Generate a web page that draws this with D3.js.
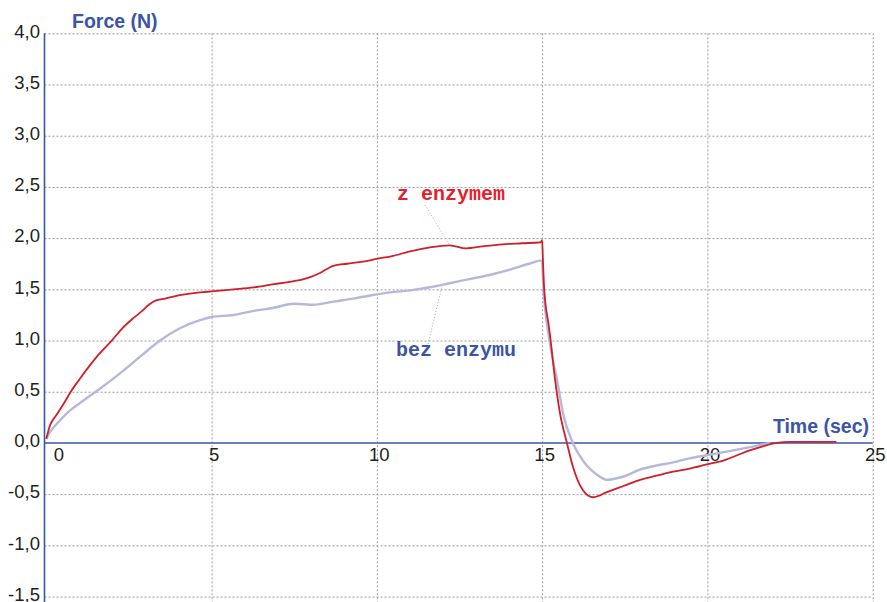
<!DOCTYPE html>
<html>
<head>
<meta charset="utf-8">
<script src="https://cdn.jsdelivr.net/npm/d3@7"></script>
<style>
  html, body { margin: 0; padding: 0; background: #fff; }
  svg { display: block; }
</style>
</head>
<body>
<svg id="chart" width="887" height="602"></svg>
<script>
// ---- data ----
const xTicks = [0, 5, 10, 15, 20, 25];
const yTicks = [-1.5, -1.0, -0.5, 0.0, 0.5, 1.0, 1.5, 2.0, 2.5, 3.0, 3.5, 4.0];
const xTitle = "Time (sec)";
const yTitle = "Force (N)";
const seriesNames = ["z enzymem", "bez enzymu"];

const redTime = [0, 0.1, 0.3, 0.5, 0.74, 1.0, 1.3, 1.6, 1.98, 2.3, 2.6, 2.9, 3.1, 3.3, 3.6, 4.0, 4.65,
  5.0, 5.67, 6.28, 6.88, 7.49, 7.9, 8.28, 8.68, 9.1, 9.58, 10.03, 10.4, 11.0, 11.6, 12.2, 12.7, 13.2,
  13.8, 14.4, 14.96, 15.0, 15.02, 15.05, 15.1, 15.19, 15.25, 15.39, 15.54, 15.75, 15.93, 16.23, 16.53,
  16.96, 17.46, 17.96, 18.46, 18.96, 19.46, 19.98, 20.5, 20.9, 21.3, 21.7, 22.1, 22.5, 23.2, 23.9];
const redForce = [0.04, 0.16, 0.27, 0.37, 0.5, 0.62, 0.75, 0.87, 1.0, 1.12, 1.21, 1.29, 1.35, 1.39, 1.41, 1.44, 1.47,
  1.48, 1.50, 1.52, 1.55, 1.58, 1.61, 1.66, 1.73, 1.75, 1.77, 1.80, 1.82, 1.87, 1.91, 1.93, 1.90, 1.92,
  1.94, 1.95, 1.96, 1.98, 1.82, 1.57, 1.36, 1.17, 1.02, 0.62, 0.29, 0.0, -0.23, -0.46, -0.53,
  -0.48, -0.42, -0.36, -0.32, -0.28, -0.25, -0.21, -0.17, -0.12, -0.07, -0.03, 0.0, 0.01, 0.01, 0.01];

const blueTime = [0, 0.1, 0.3, 0.62, 1.02, 1.62, 2.23, 2.83, 3.44, 4.04, 4.65,
  5.0, 5.67, 6.28, 6.88, 7.49, 8.1, 8.68, 9.28, 9.8, 10.4, 11.0, 11.6, 12.2, 12.8, 13.4, 14.0, 14.6,
  14.95, 15.0, 15.03, 15.1, 15.2, 15.3, 15.45, 15.63, 15.93, 16.23, 16.66, 16.96, 17.44, 17.96,
  18.46, 18.96, 19.46, 19.98, 20.5, 20.98, 21.3, 21.6, 21.9];
const blueForce = [0.04, 0.1, 0.18, 0.29, 0.39, 0.53, 0.68, 0.84, 1.0, 1.12, 1.20,
  1.23, 1.25, 1.29, 1.32, 1.36, 1.35, 1.38, 1.41, 1.44, 1.47, 1.49, 1.52, 1.56, 1.60, 1.64, 1.69, 1.75,
  1.78, 1.78, 1.56, 1.28, 1.05, 0.85, 0.62, 0.29, 0.0, -0.17, -0.31, -0.36, -0.33, -0.26,
  -0.22, -0.19, -0.15, -0.12, -0.09, -0.06, -0.04, -0.02, 0.0];

// ---- layout ----
const svg = d3.select("#chart");
const W = 887, H = 602;
const padL = 46.3, padR = 872.7, padT = 33.3, padB = 596.6;

const x = d3.scaleLinear().domain([0, 25]).range([padL, padR]);
const y = d3.scaleLinear().domain([-1.5, 4.0]).range([padB, padT]);

const axisBlue = "#3b55a6";
const gridCol = "#9a9a9a";
const labelCol = "#231f20";

// horizontal grid
const yGrid = d3.axisLeft(y).tickValues(yTicks.filter(d => d !== 0)).tickSize(-(padR - 44.5)).tickFormat("");
svg.append("g").attr("transform", "translate(44.5,0)").call(yGrid)
  .call(g => g.select(".domain").remove())
  .call(g => g.selectAll("line").attr("stroke", gridCol).attr("stroke-width", 1).attr("stroke-dasharray", "2,2"));

// vertical grid
const xGrid = d3.axisTop(x).tickValues(xTicks.filter(d => d !== 0)).tickSize(-(H - padT)).tickFormat("");
svg.append("g").attr("transform", `translate(0,${padT})`).call(xGrid)
  .call(g => g.select(".domain").remove())
  .call(g => g.selectAll("line").attr("stroke", gridCol).attr("stroke-width", 1).attr("stroke-dasharray", "2,2"));

// y tick labels
const fmt = d => d3.format(".1f")(d).replace(".", ",").replace("\u2212", "-");
const yAxis = d3.axisLeft(y).tickValues(yTicks).tickSize(0).tickPadding(0).tickFormat(fmt);
svg.append("g").attr("transform", "translate(40,0)").call(yAxis)
  .call(g => g.select(".domain").remove())
  .call(g => g.selectAll("text")
    .attr("font-family", "Liberation Sans, Arial, sans-serif")
    .attr("font-size", 18.5).attr("fill", labelCol).attr("dy", "0.2em"));

// x tick labels
const xAxis = d3.axisBottom(x).tickValues(xTicks).tickSize(0).tickPadding(0).tickFormat(d3.format("d"));
svg.append("g").attr("transform", `translate(0,${y(0)})`).call(xAxis)
  .call(g => g.select(".domain").remove())
  .call(g => g.selectAll("text")
    .attr("font-family", "Liberation Sans, Arial, sans-serif")
    .attr("font-size", 18.5).attr("fill", labelCol).attr("dy", "1.0em")
    .attr("dx", d => d === 0 ? 12 : 2));

// axis lines
svg.append("line").attr("x1", 44.5).attr("x2", 44.5).attr("y1", padT).attr("y2", H)
  .attr("stroke", axisBlue).attr("stroke-width", 1.6);
svg.append("line").attr("x1", 44.5).attr("x2", padR).attr("y1", y(0)).attr("y2", y(0))
  .attr("stroke", axisBlue).attr("stroke-width", 1.4);

// axis titles
svg.append("text").attr("x", 72).attr("y", 28).text(yTitle)
  .attr("font-family", "Liberation Sans, Arial, sans-serif").attr("font-weight", "bold")
  .attr("font-size", 19.5).attr("fill", axisBlue);
svg.append("text").attr("x", 869).attr("y", 433).attr("text-anchor", "end").text(xTitle)
  .attr("font-family", "Liberation Sans, Arial, sans-serif").attr("font-weight", "bold")
  .attr("font-size", 19.5).attr("fill", axisBlue);

// series
const line = d3.line().x(d => x(d[0])).y(d => y(d[1])).curve(d3.curveMonotoneX);
const blueData = blueTime.map((t, i) => [t, blueForce[i]]);
const redData = redTime.map((t, i) => [t, redForce[i]]);

svg.append("path").attr("d", line(blueData)).attr("fill", "none")
  .attr("stroke", "#b7b7dc").attr("stroke-width", 2.4).attr("stroke-linejoin", "round");
svg.append("path").attr("d", line(redData)).attr("fill", "none")
  .attr("stroke", "#cf1f2b").attr("stroke-width", 1.8).attr("stroke-linejoin", "round");

// annotations
svg.append("line").attr("x1", 425).attr("y1", 205).attr("x2", x(12.2)).attr("y2", y(1.93))
  .attr("stroke", "#f29a9a").attr("stroke-width", 1).attr("stroke-dasharray", "1,2");
svg.append("line").attr("x1", 428).attr("y1", 344).attr("x2", 442).attr("y2", y(1.53))
  .attr("stroke", "#9aa3d8").attr("stroke-width", 1).attr("stroke-dasharray", "1,2");

svg.append("text").attr("x", 397).attr("y", 200).text(seriesNames[0])
  .attr("font-family", "Liberation Mono, Courier New, monospace").attr("font-weight", "bold")
  .attr("font-size", 20).attr("fill", "#e4202a");
svg.append("text").attr("x", 396).attr("y", 356).text(seriesNames[1])
  .attr("font-family", "Liberation Mono, Courier New, monospace").attr("font-weight", "bold")
  .attr("font-size", 20).attr("fill", axisBlue);
</script>
</body>
</html>
